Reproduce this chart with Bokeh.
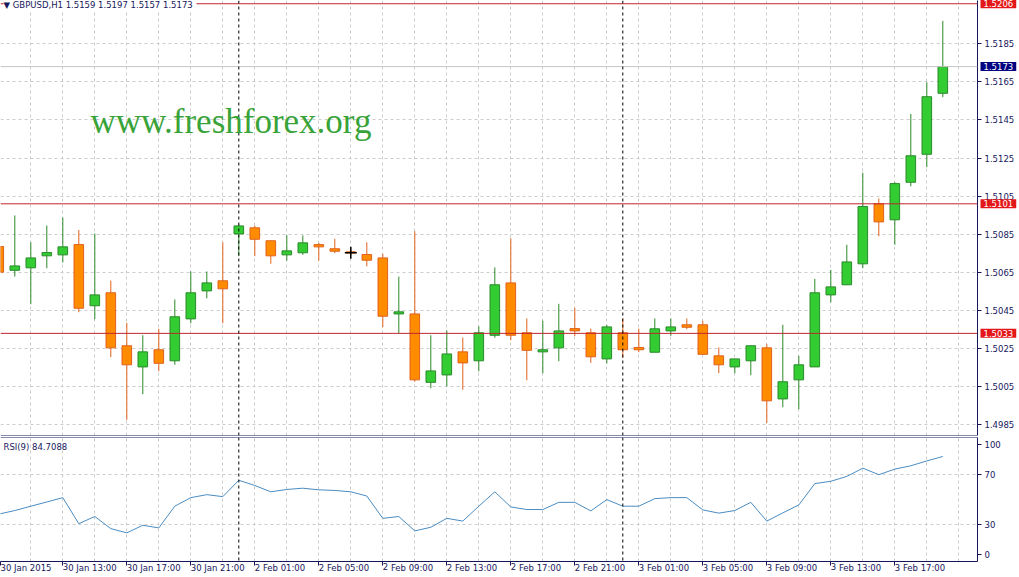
from bokeh.plotting import figure
from bokeh.models import (Range1d, FixedTicker, Grid, Span, Label,
                          NumeralTickFormatter, ColumnDataSource)
from bokeh.layouts import column
from bokeh.embed import file_html
from bokeh.resources import INLINE

# ---------------- data ----------------
SYMBOL = "GBPUSD,H1"
OPEN = [1.50786, 1.50661, 1.50674, 1.50737, 1.50742, 1.50796, 1.50475, 1.50543, 1.50265, 1.50154,
        1.50244, 1.50186, 1.50406, 1.50553, 1.50606, 1.50852, 1.50884, 1.50816, 1.50742, 1.50753,
        1.50796, 1.50774, 1.50758, 1.50744, 1.50726, 1.50432, 1.50432, 1.50073, 1.50112, 1.50233,
        1.50186, 1.50320, 1.50595, 1.50333, 1.50233, 1.50254, 1.50355, 1.50333, 1.50196, 1.50333,
        1.50256, 1.50231, 1.50343, 1.50375, 1.50375, 1.50212, 1.50154, 1.50186, 1.50254, 1.49986,
        1.50086, 1.50154, 1.50532, 1.50585, 1.50695, 1.51010, 1.50926, 1.51123, 1.51270, 1.5159]
HIGH = [1.50802, 1.50949, 1.50808, 1.50896, 1.50938, 1.50873, 1.50854, 1.50607, 1.50385, 1.50320,
        1.50354, 1.50508, 1.50655, 1.50655, 1.50808, 1.50901, 1.50896, 1.50816, 1.50845, 1.50844,
        1.50805, 1.50826, 1.50772, 1.50808, 1.50747, 1.50628, 1.50866, 1.50320, 1.50345, 1.50308,
        1.50367, 1.50676, 1.50829, 1.50408, 1.50397, 1.50485, 1.50464, 1.50355, 1.50375, 1.50408,
        1.50355, 1.50408, 1.50408, 1.50408, 1.50396, 1.50256, 1.50196, 1.50265, 1.50273, 1.50375,
        1.50212, 1.50616, 1.50663, 1.50795, 1.51173, 1.51038, 1.51123, 1.51482, 1.51648, 1.5197]
LOW = [1.50639, 1.50628, 1.50483, 1.50672, 1.50702, 1.50441, 1.50404, 1.50205, 1.49876, 1.50011,
       1.50131, 1.50165, 1.50383, 1.50514, 1.50383, 1.50735, 1.50735, 1.50695, 1.50712, 1.50742,
       1.50712, 1.50751, 1.50740, 1.50682, 1.50362, 1.50331, 1.50077, 1.50042, 1.50052, 1.50034,
       1.50131, 1.50307, 1.50294, 1.50084, 1.50121, 1.50184, 1.50315, 1.50175, 1.50172, 1.50202,
       1.50231, 1.50231, 1.50317, 1.50352, 1.50220, 1.50121, 1.50121, 1.50110, 1.49860, 1.49942,
       1.49932, 1.50154, 1.50493, 1.50585, 1.50672, 1.50840, 1.50795, 1.51102, 1.51202, 1.5157]
CLOSE = [1.50651, 1.50684, 1.50726, 1.50754, 1.50784, 1.50462, 1.50532, 1.50254, 1.50165, 1.50233,
         1.50173, 1.50417, 1.50543, 1.50595, 1.50564, 1.50894, 1.50824, 1.50737, 1.50763, 1.50805,
         1.50784, 1.50761, 1.50752, 1.50714, 1.50420, 1.50443, 1.50086, 1.50133, 1.50222, 1.50175,
         1.50333, 1.50585, 1.50320, 1.50241, 1.50244, 1.50343, 1.50343, 1.50207, 1.50364, 1.50244,
         1.50244, 1.50354, 1.50364, 1.50362, 1.50220, 1.50165, 1.50196, 1.50265, 1.49976, 1.50076,
         1.50165, 1.50543, 1.50574, 1.50705, 1.50996, 1.50915, 1.51116, 1.51262, 1.51572, 1.5173]
RSI = [38.2, 41.1, 44.6, 48.0, 51.5, 30.5, 36.3, 26.5, 23.1, 29.2,
       27.1, 44.6, 51.5, 53.9, 52.3, 65.5, 61.3, 56.2, 58.1, 59.1,
       57.8, 57.3, 56.2, 52.8, 34.8, 36.3, 24.7, 27.6, 34.8, 32.6,
       44.6, 56.2, 44.0, 41.9, 41.9, 47.7, 47.7, 40.8, 49.9, 44.6,
       44.6, 50.7, 51.5, 51.5, 41.6, 39.0, 41.1, 47.7, 32.6, 39.2,
       45.6, 62.8, 64.7, 68.6, 75.3, 70.0, 74.5, 77.2, 81.1, 84.7]
RSI_PERIOD = 9
RSI_LAST_TEXT = "84.7088"
RSI_LEVELS = [30, 70]
RSI_AXIS_LABELS = ["0", "30", "70", "100"]

PRICE_TICKS = [1.4985, 1.5005, 1.5025, 1.5045, 1.5065, 1.5085, 1.5105, 1.5125, 1.5145, 1.5165, 1.5185]
LEVELS = [1.5206, 1.5101, 1.5033]
X_TICKS = [0, 4, 8, 12, 16, 20, 24, 28, 32, 36, 40, 44, 48, 52, 56]
X_LABELS = ["30 Jan 2015", "30 Jan 13:00", "30 Jan 17:00", "30 Jan 21:00", "2 Feb 01:00",
            "2 Feb 05:00", "2 Feb 09:00", "2 Feb 13:00", "2 Feb 17:00", "2 Feb 21:00",
            "3 Feb 01:00", "3 Feb 05:00", "3 Feb 09:00", "3 Feb 13:00", "3 Feb 17:00"]
DAY_STARTS = [15, 39]
CURSOR_BAR, CURSOR_PRICE = 22, 1.50753
WATERMARK = "www.freshforex.org"

# ---------------- layout / style ----------------
W_FRAME = 977
H_MAIN = 435
H_RSI = 124
RIGHT_W = 42
BAR_PX = 16
XSTART = 0.106
XEND = XSTART + W_FRAME / BAR_PX
YMIN, YMAX = 1.49794, 1.52077

NAVY = "#16165c"
GRIDC = "#cdcdcd"
RED_LINE = "#c0262b"
RED_BOX = "#e3171a"
BULL_FILL, BULL_EDGE = "#33cc33", "#2a8a2a"
BEAR_FILL, BEAR_EDGE = "#ff8c00", "#e0621c"
FONT = "DejaVu Sans"
FS = "8.5px"

GRID_X = list(range(2, 61, 2))

n = len(OPEN)
bull = [c >= o for o, c in zip(OPEN, CLOSE)]
src = ColumnDataSource(dict(
    x=list(range(n)), h=HIGH, l=LOW,
    top=[max(o, c) for o, c in zip(OPEN, CLOSE)],
    bot=[min(o, c) for o, c in zip(OPEN, CLOSE)],
    fill=[BULL_FILL if b else BEAR_FILL for b in bull],
    edge=[BULL_EDGE if b else BEAR_EDGE for b in bull],
))

xr = Range1d(XSTART, XEND)


def strip_grids(fig):
    fig.center = [r for r in fig.center if not isinstance(r, Grid)]


def style_axis(ax):
    ax.axis_line_color = NAVY
    ax.major_tick_line_color = NAVY
    ax.major_tick_in = 0
    ax.major_tick_out = 4
    ax.minor_tick_line_color = None
    ax.major_label_text_color = NAVY
    ax.major_label_text_font = FONT
    ax.major_label_text_font_size = FS


# ---------------- main price panel ----------------
p = figure(frame_width=W_FRAME, frame_height=H_MAIN, x_range=xr,
           y_range=Range1d(YMIN, YMAX), y_axis_location="right", x_axis_location=None,
           output_backend="svg", toolbar_location=None,
           min_border_left=0, min_border_right=RIGHT_W, min_border_top=0, min_border_bottom=1,
           outline_line_color=None, background_fill_color="white", border_fill_color="white")
strip_grids(p)
p.add_layout(Grid(dimension=1, ticker=FixedTicker(ticks=PRICE_TICKS),
                  grid_line_color=GRIDC, grid_line_dash="3 3"))
p.add_layout(Grid(dimension=0, ticker=FixedTicker(ticks=GRID_X),
                  grid_line_color=GRIDC, grid_line_dash="3 3"))
ya = p.yaxis[0]
ya.ticker = FixedTicker(ticks=PRICE_TICKS)
ya.formatter = NumeralTickFormatter(format="0.0000")
style_axis(ya)
ya.major_label_standoff = 3

p.add_layout(Span(location=CLOSE[-1], dimension="width", line_color="#c4c4c4", line_width=1))
for lv in LEVELS:
    p.add_layout(Span(location=lv, dimension="width", line_color=RED_LINE, line_width=1))
for d in DAY_STARTS:
    p.add_layout(Span(location=d, dimension="height", line_color="black",
                      line_width=1, line_dash="3 3"))
p.add_layout(Span(location=YMIN, dimension="width", line_color=NAVY, line_width=1))

p.segment(x0="x", y0="l", x1="x", y1="h", line_color="edge", line_width=1, source=src)
p.vbar(x="x", width=0.6, top="top", bottom="bot", fill_color="fill",
       line_color="edge", line_width=1, source=src)

p.scatter([CURSOR_BAR], [CURSOR_PRICE], marker="cross", size=12,
          line_color="black", line_width=1.5)

p.add_layout(Label(x=90, y=H_MAIN - 121, x_units="screen", y_units="screen", text=WATERMARK,
                   text_font="Liberation Serif", text_font_size="35px",
                   text_color="#38a338", text_baseline="middle"))

title = "\u25bc {}  {:.4f} {:.4f} {:.4f} {:.4f}".format(SYMBOL, OPEN[-1], HIGH[-1], LOW[-1], CLOSE[-1])
p.add_layout(Label(x=3, y=H_MAIN - 4.7, x_units="screen", y_units="screen", text=title,
                   text_font=FONT, text_font_size=FS, text_color=NAVY,
                   text_baseline="middle", background_fill_color="white",
                   padding=dict(left=0, right=1, top=0, bottom=0)))

# price-level tags on the right scale (placed in the right side panel, not clipped)
tag_vals = LEVELS + [CLOSE[-1]]
tag_cols = [RED_BOX] * len(LEVELS) + ["#000080"]
for v, col in zip(tag_vals, tag_cols):
    p.add_layout(Label(x=XEND, y=v, x_offset=3, text="{:.4f}".format(v),
                       text_font=FONT, text_font_size=FS, text_color="white",
                       text_baseline="middle", background_fill_color=col,
                       padding=dict(left=3, right=3, top=1, bottom=1)), "right")

# ---------------- RSI panel ----------------
r = figure(frame_width=W_FRAME, frame_height=H_RSI, x_range=xr, y_range=Range1d(0, 100),
           y_axis_location="right", output_backend="svg", toolbar_location=None,
           min_border_left=0, min_border_right=RIGHT_W, min_border_top=1, min_border_bottom=10,
           outline_line_color=None, background_fill_color="white", border_fill_color="white")
strip_grids(r)
r.add_layout(Grid(dimension=1, ticker=FixedTicker(ticks=RSI_LEVELS),
                  grid_line_color=GRIDC, grid_line_dash="3 3"))
r.add_layout(Grid(dimension=0, ticker=FixedTicker(ticks=GRID_X),
                  grid_line_color=GRIDC, grid_line_dash="3 3"))
for d in DAY_STARTS:
    r.add_layout(Span(location=d, dimension="height", line_color="black",
                      line_width=1, line_dash="3 3"))
r.add_layout(Span(location=100, dimension="width", line_color=NAVY, line_width=1))

r.line(list(range(n)), RSI, line_color="#4a8cc2", line_width=1)

# MT4 draws the 0 / 100 scale labels slightly inside the window
rsi_pos = [6, 30, 70, 94]
ra = r.yaxis[0]
ra.ticker = FixedTicker(ticks=rsi_pos)
ra.major_label_overrides = {pos: lab for pos, lab in zip(rsi_pos, RSI_AXIS_LABELS)}
style_axis(ra)
ra.major_label_standoff = 3

xpos = [max(t, XSTART) for t in X_TICKS]
xa = r.xaxis[0]
xa.ticker = FixedTicker(ticks=xpos)
xa.major_label_overrides = {pos: lab for pos, lab in zip(xpos, X_LABELS)}
style_axis(xa)
# a tiny negative angle makes Bokeh anchor each time label at its left end (MT4 style)
xa.major_label_orientation = -1e-4
xa.major_label_standoff = 2

r.add_layout(Label(x=3, y=H_RSI - 9, x_units="screen", y_units="screen",
                   text="RSI({}) {}".format(RSI_PERIOD, RSI_LAST_TEXT),
                   text_font=FONT, text_font_size=FS, text_color=NAVY,
                   text_baseline="middle"))

layout = column(p, r, spacing=0)
open("out.html", "w").write(file_html(layout, INLINE))
